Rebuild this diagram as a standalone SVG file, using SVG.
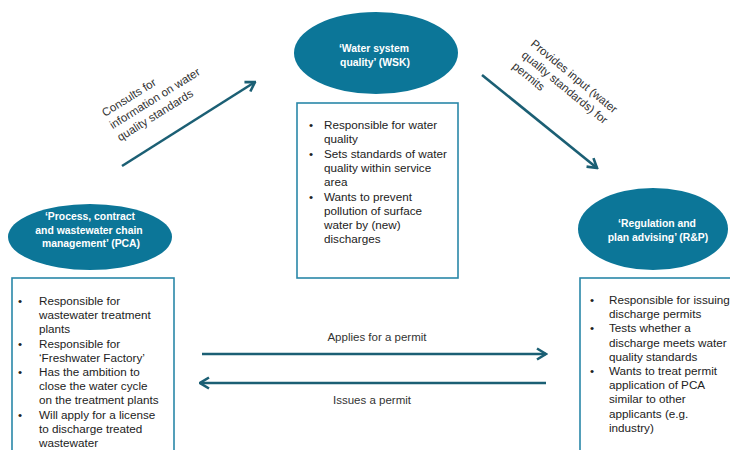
<svg xmlns="http://www.w3.org/2000/svg" width="730" height="450" viewBox="0 0 730 450">
  <style>
    .actor { fill: #0c7698; }
    .actor-label { font-family: "Liberation Sans", Arial, sans-serif; font-size: 10.4px; font-weight: bold; fill: #ffffff; text-anchor: middle; }
    .card { fill: #ffffff; stroke: #2a87a8; stroke-width: 1.6; }
    .card-text { font-family: "Liberation Sans", Arial, sans-serif; font-size: 11.7px; fill: #222222; }
    .flow { fill: none; stroke: #1b5f74; stroke-width: 2.6; marker-end: url(#chevron); }
    .flow-label { font-family: "Liberation Sans", Arial, sans-serif; font-size: 11.5px; fill: #333333; }
  </style>
  <defs>
    <marker id="chevron" viewBox="0 0 12 14" refX="10.5" refY="7" markerWidth="12" markerHeight="14" markerUnits="userSpaceOnUse" orient="auto">
      <path d="M1.5,1.5 L10.5,7 L1.5,12.5" fill="none" stroke="#1b5f74" stroke-width="2.6" stroke-linejoin="miter"/>
    </marker>
  </defs>
  <rect width="730" height="450" fill="#ffffff"/>

  <!-- Water system quality -->
  <g id="wsk">
    <ellipse class="actor" cx="376" cy="53" rx="82" ry="41"/>
    <text class="actor-label" x="374" y="51.5">‘Water system</text>
    <text class="actor-label" x="375" y="65.5">quality’ (WSK)</text>
    <rect class="card" x="297" y="103" width="161" height="175"/>
    <g class="card-text">
      <text x="309" y="129">•</text><text x="324" y="129">Responsible for water</text>
      <text x="324" y="143.3">quality</text>
      <text x="309" y="157.6">•</text><text x="324" y="157.6">Sets standards of water</text>
      <text x="324" y="171.9">quality within service</text>
      <text x="324" y="186.2">area</text>
      <text x="309" y="200.5">•</text><text x="324" y="200.5">Wants to prevent</text>
      <text x="324" y="214.8">pollution of surface</text>
      <text x="324" y="229.1">water by (new)</text>
      <text x="324" y="243.4">discharges</text>
    </g>
  </g>

  <!-- Process, contract and wastewater chain management -->
  <g id="pca">
    <ellipse class="actor" cx="90" cy="237" rx="82" ry="33"/>
    <text class="actor-label" x="90" y="220">‘Process, contract</text>
    <text class="actor-label" x="89" y="233.5">and wastewater chain</text>
    <text class="actor-label" x="91" y="247">management’ (PCA)</text>
    <rect class="card" x="12" y="278" width="162" height="180"/>
    <g class="card-text">
      <text x="18" y="305">•</text><text x="39" y="305">Responsible for</text>
      <text x="39" y="319.2">wastewater treatment</text>
      <text x="39" y="333.4">plants</text>
      <text x="18" y="347.6">•</text><text x="39" y="347.6">Responsible for</text>
      <text x="39" y="361.8">‘Freshwater Factory’</text>
      <text x="18" y="376">•</text><text x="39" y="376">Has the ambition to</text>
      <text x="39" y="390.2">close the water cycle</text>
      <text x="39" y="404.4">on the treatment plants</text>
      <text x="18" y="418.6">•</text><text x="39" y="418.6">Will apply for a license</text>
      <text x="39" y="432.8">to discharge treated</text>
      <text x="39" y="447">wastewater</text>
    </g>
  </g>

  <!-- Regulation and plan advising -->
  <g id="rp">
    <ellipse class="actor" cx="653" cy="229" rx="75" ry="41"/>
    <text class="actor-label" x="657" y="227">‘Regulation and</text>
    <text class="actor-label" x="658" y="241">plan advising’ (R&amp;P)</text>
    <rect class="card" x="580" y="278" width="170" height="180"/>
    <g class="card-text">
      <text x="590" y="304">•</text><text x="609" y="304">Responsible for issuing</text>
      <text x="609" y="318.2">discharge permits</text>
      <text x="590" y="332.4">•</text><text x="609" y="332.4">Tests whether a</text>
      <text x="609" y="346.6">discharge meets water</text>
      <text x="609" y="360.8">quality standards</text>
      <text x="590" y="375">•</text><text x="609" y="375">Wants to treat permit</text>
      <text x="609" y="389.2">application of PCA</text>
      <text x="609" y="403.4">similar to other</text>
      <text x="609" y="417.6">applicants (e.g.</text>
      <text x="609" y="431.8">industry)</text>
    </g>
  </g>

  <!-- Connectors -->
  <g id="connectors">
    <line class="flow" x1="122" y1="166" x2="255" y2="82"/>
    <g class="flow-label" transform="translate(105,117) rotate(-32)">
      <text x="0" y="0">Consults for</text>
      <text x="0" y="14.5">information on water</text>
      <text x="0" y="29">quality standards</text>
    </g>

    <line class="flow" x1="482" y1="75" x2="597" y2="168"/>
    <g class="flow-label" transform="translate(530,45) rotate(39.5)">
      <text x="0" y="0">Provides input (water</text>
      <text x="0" y="14.5">quality standards) for</text>
      <text x="0" y="29">permits</text>
    </g>

    <line class="flow" x1="202" y1="354" x2="546" y2="354"/>
    <text class="flow-label" x="377" y="341" text-anchor="middle">Applies for a permit</text>

    <line class="flow" x1="546" y1="383" x2="200" y2="383"/>
    <text class="flow-label" x="372" y="404" text-anchor="middle">Issues a permit</text>
  </g>
</svg>
